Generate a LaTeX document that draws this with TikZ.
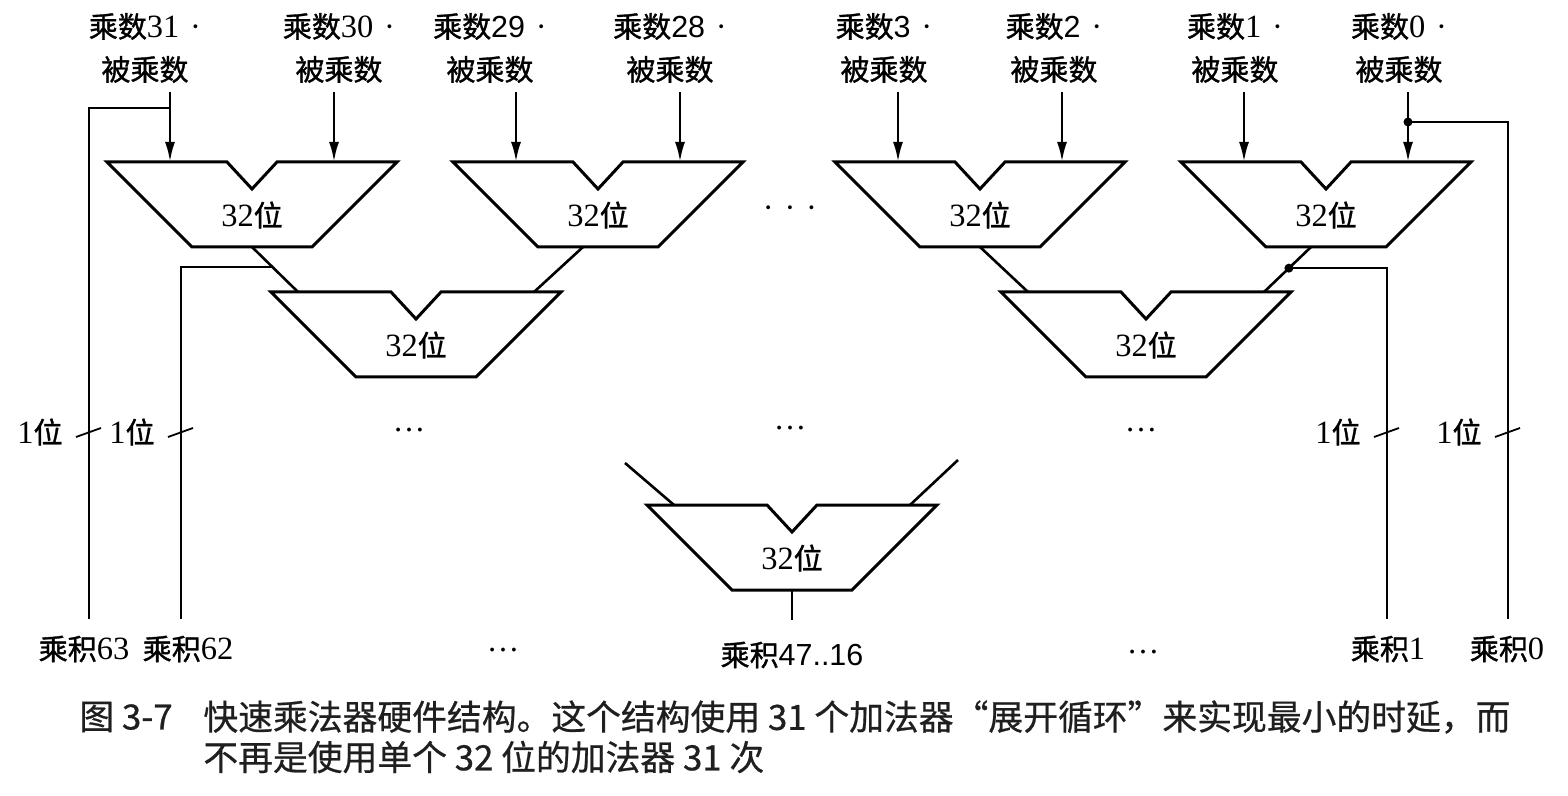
\documentclass[tikz,border=0pt]{standalone}
\usepackage{fontspec}
\setmainfont{Liberation Serif}[Scale=1.12]
\newfontfamily\sansdig{Liberation Sans}[Scale=1.05]
\newfontfamily\cjk[FakeBold=1.2]{Noto Sans CJK SC}
\newfontfamily\capcjk[FakeBold=0.6]{Noto Sans CJK SC}
\usetikzlibrary{arrows.meta,calc}
\newcommand\mlbl[1]{{\cjk 乘数}#1\,\,·\\{\cjk 被乘数}}
\tikzset{
  adderline/.style={line width=1.5pt, line join=miter},
  diag/.style={line width=1.3pt},
  wire/.style={line width=0.9pt},
  inarrow/.style={line width=1.3pt, -{Latex[length=10pt,width=5pt]}},
  lbl/.style={font=\fontsize{14.5}{21.5}\selectfont, inner sep=0pt, align=center},
  caption/.style={font=\fontsize{17.4}{20}\selectfont\capcjk, inner sep=0pt, anchor=west, text=black!88},
  jdot/.style={circle, fill, inner sep=0pt, minimum size=4.5pt},
  pics/adder/.style={code={
    \draw[adderline] (-145,0) -- (-25,0) -- (0,27) -- (25,0) -- (145,0) -- (60,85) -- (-60,85) -- cycle;
    \node[lbl] (-lbl) at (0,53) {32{\cjk 位}};
    \coordinate (-iL) at (-82,0);
    \coordinate (-iR) at (82,0);
    \coordinate (-jL) at (-118,0);
    \coordinate (-jR) at (118,0);
    \coordinate (-outR) at (0,85);
    \coordinate (-outL) at (-15,85);
  }}
}
\begin{document}
\begin{tikzpicture}[x=0.5pt,y=-0.5pt]
\useasboundingbox (0,0) rectangle (1568,796);
\fill[white] (0,0) rectangle (1568,796);

% adders
\pic (a1) at (252,162) {adder};
\pic (a2) at (598,162) {adder};
\pic (a3) at (980,162) {adder};
\pic (a4) at (1326,162) {adder};
\pic (b1) at (416,292) {adder};
\pic (b2) at (1146,292) {adder};
\pic (c) at (792,505) {adder};

% top labels
\node[lbl] (m31) at (145,48) {\mlbl{31}};
\node[lbl] (m30) at (339,48) {\mlbl{30}};
\node[lbl] (m29) at (490,48) {\mlbl{{\sansdig 29}}};
\node[lbl] (m28) at (670,48) {\mlbl{{\sansdig 28}}};
\node[lbl] (m3) at (884,48) {\mlbl{{\sansdig 3}}};
\node[lbl] (m2) at (1054,48) {\mlbl{{\sansdig 2}}};
\node[lbl] (m1) at (1235,48) {\mlbl{1}};
\node[lbl] (m0) at (1399,48) {\mlbl{0}};

% input arrows
\coordinate (top) at (0,92);
\foreach \a in {a1,a2,a3,a4}{
  \draw[inarrow] (\a-iL |- top) -- (\a-iL);
  \draw[inarrow] (\a-iR |- top) -- (\a-iR);
}

% adder-to-adder connections
\draw[diag] (a1-outR) -- (b1-jL);
\draw[diag] (a2-outL) -- (b1-jR);
\draw[diag] (a3-outR) -- (b2-jL);
\draw[diag] (a4-outL) -- (b2-jR);
\coordinate (cL) at (625,463);
\coordinate (cR) at (958,460);
\draw[diag] (cL) -- (c-jL);
\draw[diag] (cR) -- (c-jR);

% product wires
\coordinate (h63) at (89,619);
\coordinate (h62) at (181,619);
\coordinate (h1) at (1387,619);
\coordinate (h0) at (1508,619);
\coordinate (j31) at ($(a1-iL)+(0,-54)$);
\coordinate (j62) at ($(a1-outR)!0.44!(b1-jL)$);
\coordinate (j1) at ($(a4-outL)!0.47!(b2-jR)$);
\coordinate (j0) at ($(a4-iR)+(0,-40)$);
\draw[wire] (j31) -| (h63);
\draw[wire] (j62) -| (h62);
\draw[wire] (j1) -| (h1);
\draw[wire] (j0) -| (h0);
\node[jdot] (d1) at (j1) {};
\node[jdot] (d0) at (j0) {};

% 1-bit ticks
\foreach \h/\n in {h63/t63,h62/t62,h1/t1,h0/t0}{
  \draw[wire] ($(\h)+(-13,-182)$) -- ++(25,-9);
  \node[lbl, anchor=east] (\n) at ($(\h)+(-26,-187)$) {1{\cjk 位}};
}

% output
\coordinate (cOut) at (792,620);
\draw[wire] (c-outR) -- (cOut);

% product labels
\node[lbl] (p63) at (84,649) {{\cjk 乘积}63};
\node[lbl] (p62) at (188,649) {{\cjk 乘积}62};
\node[lbl] (p4716) at (792,655) {{\cjk 乘积}{\sansdig 47..16}};
\node[lbl] (p1) at (1388,649) {{\cjk 乘积}1};
\node[lbl] (p0) at (1507,649) {{\cjk 乘积}0};

% ellipses
\node[lbl] (e0) at (790,212) {·\,\,·\,\,·};
\node[lbl] (e1) at (409,430) {\ldots};
\node[lbl] (e2) at (790,428) {\ldots};
\node[lbl] (e3) at (1141,430) {\ldots};
\node[lbl] (e4) at (503,650) {\ldots};
\node[lbl] (e5) at (1143,652) {\ldots};

% caption
\node[caption] (cap0) at (79,717) {图 3-7};
\node[caption] (cap1) at (203,717) {快速乘法器硬件结构。这个结构使用 31 个加法器“展开循环”来实现最小的时延，而};
\node[caption] (cap2) at (203,757) {不再是使用单个 32 位的加法器 31 次};
\end{tikzpicture}
\end{document}
